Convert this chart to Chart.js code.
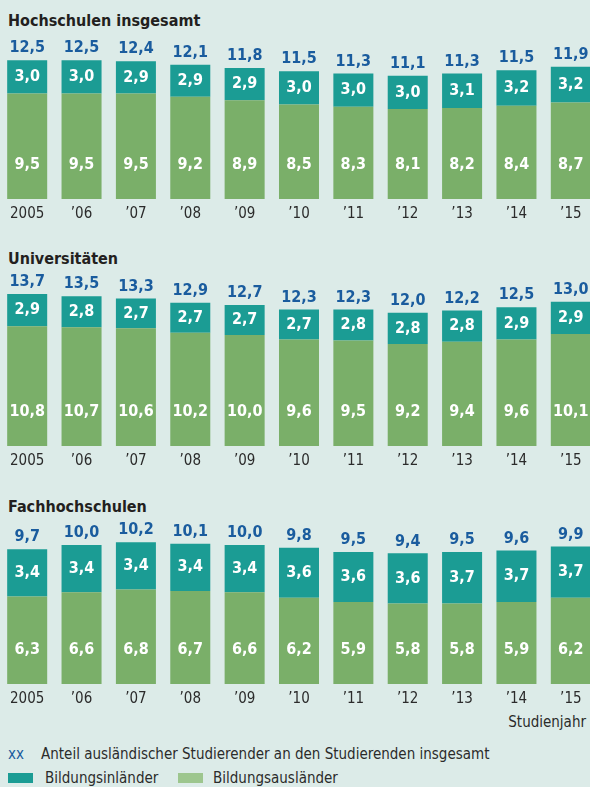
<!DOCTYPE html>
<html lang="de">
<head>
<meta charset="utf-8">
<script src="https://cdn.jsdelivr.net/npm/chart.js@4/dist/chart.umd.min.js"></script>
<style>
  body { margin: 0; background: #dcebe8; width: 590px; height: 787px; overflow: hidden; position: relative;
         font-family: 'DejaVu Sans Condensed', 'DejaVu Sans', sans-serif; color: #231f20; }
  .title { position: absolute; left: 8px; font-size: 16px; font-weight: bold; line-height: 20px; }
  canvas { position: absolute; left: 0; }
  .txt { position: absolute; font-size: 15px; line-height: 20px; color: #2b2b2b; white-space: nowrap; }
  .box { position: absolute; width: 25px; height: 10px; }
</style>
</head>
<body>
<div class="title" style="top:11px">Hochschulen insgesamt</div>
<canvas id="c1" width="598" height="192" style="top:34px"></canvas>
<div class="title" style="top:249px">Universitäten</div>
<canvas id="c2" width="598" height="203" style="top:270px"></canvas>
<div class="title" style="top:497px">Fachhochschulen</div>
<canvas id="c3" width="598" height="191" style="top:520px"></canvas>
<div class="txt" style="top:712px; right:4px">Studienjahr</div>
<div class="txt" style="top:744px; left:8px; color:#1a5c9e">xx</div>
<div class="txt" style="top:744px; left:41px">Anteil ausländischer Studierender an den Studierenden insgesamt</div>
<div class="box" style="top:773px; left:8px; background:#1b9c94"></div>
<div class="txt" style="top:768px; left:45px">Bildungsinländer</div>
<div class="box" style="top:773px; left:178px; background:#9dc68e"></div>
<div class="txt" style="top:768px; left:213px">Bildungsausländer</div>
<script>
// Daten
const jahre = ['2005', '’06', '’07', '’08', '’09', '’10', '’11', '’12', '’13', '’14', '’15'];

const hsGesamt = [12.5, 12.5, 12.4, 12.1, 11.8, 11.5, 11.3, 11.1, 11.3, 11.5, 11.9];
const hsInlaender = [3.0, 3.0, 2.9, 2.9, 2.9, 3.0, 3.0, 3.0, 3.1, 3.2, 3.2];
const hsAuslaender = [9.5, 9.5, 9.5, 9.2, 8.9, 8.5, 8.3, 8.1, 8.2, 8.4, 8.7];

const uniGesamt = [13.7, 13.5, 13.3, 12.9, 12.7, 12.3, 12.3, 12.0, 12.2, 12.5, 13.0];
const uniInlaender = [2.9, 2.8, 2.7, 2.7, 2.7, 2.7, 2.8, 2.8, 2.8, 2.9, 2.9];
const uniAuslaender = [10.8, 10.7, 10.6, 10.2, 10.0, 9.6, 9.5, 9.2, 9.4, 9.6, 10.1];

const fhGesamt = [9.7, 10.0, 10.2, 10.1, 10.0, 9.8, 9.5, 9.4, 9.5, 9.6, 9.9];
const fhInlaender = [3.4, 3.4, 3.4, 3.4, 3.4, 3.6, 3.6, 3.6, 3.7, 3.7, 3.7];
const fhAuslaender = [6.3, 6.6, 6.8, 6.7, 6.6, 6.2, 5.9, 5.8, 5.8, 5.9, 6.2];

const FONT = "'DejaVu Sans Condensed', 'DejaVu Sans', sans-serif";
const fmt = v => v.toFixed(1).replace('.', ',');

// Beschriftungen in den Balken und darüber
const labelPlugin = {
    id: 'werte',
    afterDatasetsDraw(chart, args, opts) {
        const ctx = chart.ctx;
        const gruen = chart.getDatasetMeta(0).data;
        const tuerkis = chart.getDatasetMeta(1).data;
        ctx.save();
        ctx.font = 'bold 16px ' + FONT;
        ctx.textAlign = 'center';
        ctx.textBaseline = 'middle';
        gruen.forEach((bar, i) => {
            ctx.fillStyle = '#ffffff';
            ctx.fillText(fmt(chart.data.datasets[0].data[i]), bar.x, bar.base - 34);
            const t = tuerkis[i];
            ctx.fillText(fmt(chart.data.datasets[1].data[i]), t.x, (t.y + t.base) / 2);
            ctx.fillStyle = '#1a5c9e';
            ctx.fillText(fmt(opts.gesamt[i]), t.x, t.y - 12);
        });
        ctx.restore();
    }
};

function zeichne(id, ausl, inl, gesamt, max) {
    new Chart(document.getElementById(id), {
        type: 'bar',
        data: {
            labels: jahre,
            datasets: [
                { label: 'Bildungsausländer', data: ausl, backgroundColor: '#7aaf69' },
                { label: 'Bildungsinländer', data: inl, backgroundColor: '#1b9c94' }
            ]
        },
        options: {
            responsive: false,
            animation: false,
            layout: { padding: 0 },
            datasets: { bar: { barPercentage: 0.736, categoryPercentage: 1, borderWidth: 0 } },
            scales: {
                x: {
                    stacked: true,
                    grid: { display: false, drawTicks: false },
                    border: { display: false },
                    ticks: { color: '#2b2b2b', font: { family: FONT, size: 15 }, padding: 6, maxRotation: 0, autoSkip: false },
                    afterFit: s => { s.height = 27; }
                },
                y: { stacked: true, display: false, min: 0, max: max }
            },
            plugins: {
                legend: { display: false },
                tooltip: { enabled: false },
                werte: { gesamt: gesamt }
            }
        },
        plugins: [labelPlugin]
    });
}

zeichne('c1', hsAuslaender, hsInlaender, hsGesamt, 14.86);
zeichne('c2', uniAuslaender, uniInlaender, uniGesamt, 15.86);
zeichne('c3', fhAuslaender, fhInlaender, fhGesamt, 11.8);
</script>
</body>
</html>
